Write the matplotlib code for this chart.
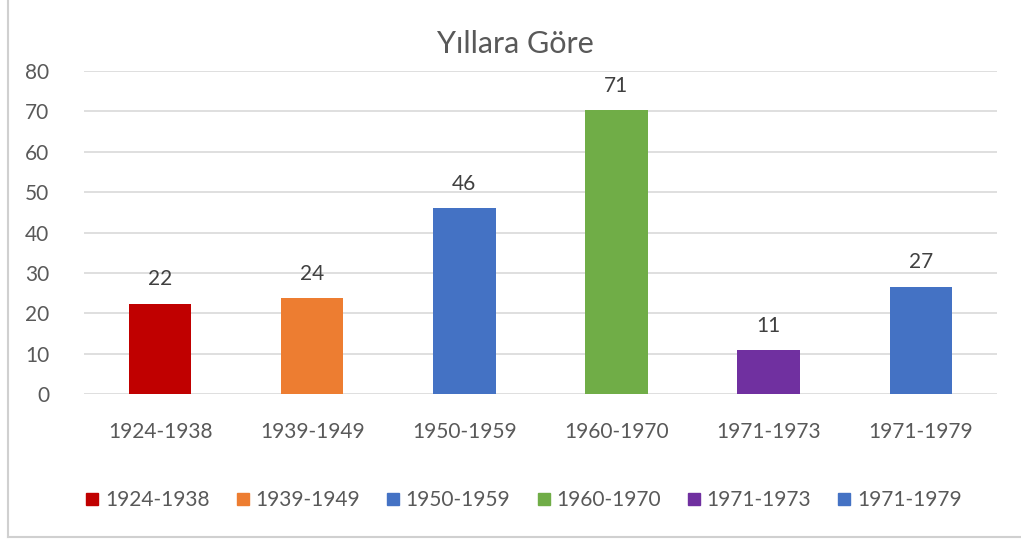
import matplotlib.pyplot as plt
from matplotlib.lines import Line2D

categories = ["1924-1938", "1939-1949", "1950-1959", "1960-1970", "1971-1973", "1971-1979"]
values = [22, 24, 46, 71, 11, 27]
heights = [22.4, 23.7, 46, 70.3, 10.8, 26.6]
colors = ["#C00000", "#ED7D31", "#4472C4", "#70AD47", "#7030A0", "#4472C4"]

plt.rcParams['font.family'] = ['Lato', 'DejaVu Sans']
text_color = "#595959"

fig = plt.figure(figsize=(10.21, 5.4), dpi=100)
ax = fig.add_axes([0.0823, 0.2704, 0.894, 0.598])

x = range(len(categories))
bars = ax.bar(x, heights, width=0.41, color=colors, zorder=3)

for b, v in zip(bars, values):
    ax.text(b.get_x() + b.get_width() / 2, b.get_height() + 3.6, str(v),
            ha="center", va="bottom", fontsize=15, color="#404040")

ax.set_xlim(-0.5, len(categories) - 0.5)
ax.set_ylim(0, 80)
ax.set_yticks(range(0, 81, 10))
ax.set_xticks(list(x))
ax.set_xticklabels(categories)
ax.tick_params(axis="both", length=0, labelsize=15, labelcolor=text_color)
ax.tick_params(axis="x", pad=20)
ax.tick_params(axis="y", pad=25)
ax.grid(axis="y", color="#d9d9d9", linewidth=1.2, zorder=0)
for s in ax.spines.values():
    s.set_visible(False)

fig.text(0.505, 0.918, "Yıllara Göre", ha="center", va="center", fontsize=22, color=text_color)

handles = [Line2D([], [], marker="s", linestyle="none", markersize=8, color=c) for c in colors]
fig.legend(handles, categories, loc="center", bbox_to_anchor=(0.511, 0.074), ncol=6,
           frameon=False, fontsize=15, handletextpad=0.1, columnspacing=1.1,
           labelcolor=text_color, handlelength=1.0)

# chart border (left and bottom visible)
fig.add_artist(Line2D([0.008, 0.008], [0.005, 1.0], color="#d0d0d0", linewidth=1.5))
fig.add_artist(Line2D([0.008, 1.0], [0.005, 0.005], color="#d0d0d0", linewidth=1.5))

fig.savefig("out.png", dpi=100, facecolor="white")
